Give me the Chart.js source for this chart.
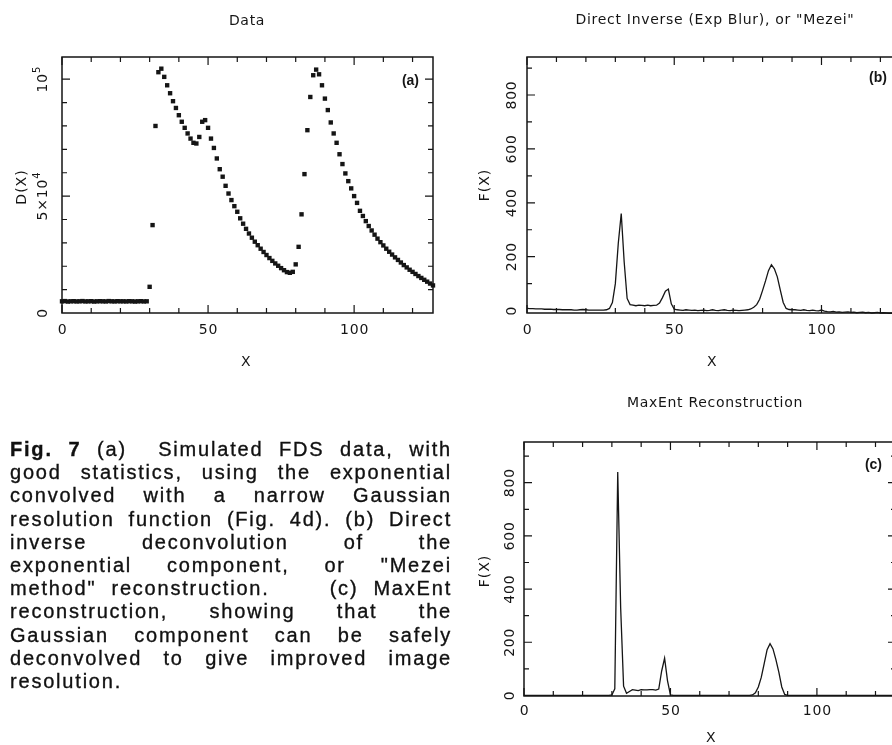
<!DOCTYPE html>
<html><head><meta charset="utf-8">
<script src="https://cdn.jsdelivr.net/npm/chart.js@4.4.1/dist/chart.umd.min.js"></script>
<style>
html,body{margin:0;padding:0;background:#fff;overflow:hidden;width:892px;height:745px;}
#wrap{position:relative;width:892px;height:745px;overflow:hidden;background:#fff;}
canvas{position:absolute;}
#cap{position:absolute;left:10px;top:438px;width:442px;font-family:"Liberation Sans",Arial,sans-serif;font-size:20px;line-height:23.2px;color:#111;letter-spacing:1.8px;-webkit-text-stroke:0.35px #111;}
#cap div{text-align:justify;text-align-last:justify;white-space:nowrap;}
#cap div.last{text-align:left;text-align-last:left;}
</style></head>
<body><div id="wrap">
<canvas id="ca" width="450" height="380" style="left:0;top:0"></canvas>
<canvas id="cb" width="460" height="380" style="left:450px;top:0"></canvas>
<canvas id="cc" width="460" height="375" style="left:450px;top:370px"></canvas>
<div id="cap">
<div><b>Fig. 7</b> (a)&nbsp; Simulated FDS data, with</div>
<div>good statistics, using the exponential</div>
<div>convolved with a narrow Gaussian</div>
<div>resolution function (Fig. 4d). (b) Direct</div>
<div>inverse deconvolution of the</div>
<div>exponential component, or "Mezei</div>
<div>method" reconstruction.&nbsp;&nbsp;&nbsp; (c) MaxEnt</div>
<div>reconstruction, showing that the</div>
<div>Gaussian component can be safely</div>
<div>deconvolved to give improved image</div>
<div class="last">resolution.</div>
</div>
</div>
<script>
// ---- data ----
const channels = [];
for (let i = 0; i < 128; i++) channels.push(i);

const dataCounts = [
 5000,5100,4900,5000,5050,4950,5000,5100,4950,5000,
 5050,4900,5000,5050,5000,4950,5100,5000,4950,5050,
 5000,5000,4950,5050,5000,4900,5000,5050,4950,5000,
 11200,37600,80000,103000,104500,101000,97400,94000,90600,87700,
 84600,81800,79200,76800,74600,72800,72500,75300,81800,82500,
 79200,74600,70600,66100,61500,58300,54400,51100,48300,45700,
 43300,40500,38200,36000,34000,32200,30500,29000,27500,26100,
 24800,23500,22300,21200,20200,19200,18300,17500,17200,17600,
 20800,28300,42200,59400,78200,92400,101700,104100,102100,97400,
 91700,86800,81500,76800,72800,67900,63700,59700,56400,53300,
 50000,47100,43700,41500,39300,37200,35300,33500,31800,30300,
 28900,27500,26200,25000,23800,22700,21600,20500,19500,18500,
 17600,16700,15800,15000,14200,13400,12600,11800
];

const mezei = [
 8,7,7,6,6,6,5,5,5,4,
 4,4,3,3,3,3,2,2,3,4,
 3,2,2,2,2,2,2,3,8,30,
 100,250,360,180,45,22,20,18,20,19,
 18,20,18,19,20,28,48,72,80,25,
 5,3,2,1,3,2,1,2,0,1,
 2,0,1,3,1,0,2,3,1,0,
 2,1,0,1,2,3,6,12,22,42,
 75,110,148,170,155,125,77,30,8,4,
 3,3,2,1,3,1,0,2,0,-1,
 2,-2,-4,-5,-3,-6,-5,-7,-6,-5,
 -7,-6,-8,-7,-6,-8,-7,-9,-8,-7,
 -9,-8,-9,-10,-9,-10,-10,-11
];

const maxent = [
 0,0,0,0,0,0,0,0,0,0,
 0,0,0,0,0,0,0,0,0,0,
 0,0,0,0,0,0,0,0,0,0,
 2,25,840,330,35,8,15,22,20,18,
 22,21,21,22,22,20,24,92,140,55,
 2,0,0,0,0,0,0,0,0,0,
 0,0,0,0,0,0,0,0,0,0,
 0,0,0,0,0,0,0,0,2,10,
 32,68,120,172,195,175,135,88,32,4,
 0,0,0,0,0,0,0,0,0,0,
 0,0,0,0,0,0,0,0,0,0,
 0,0,0,0,0,0,0,0,0,0,
 0,0,0,0,0,0,0,0
];

const xTickLabels = [0, 50, 100];
const yTickA = [{v:0, t:'0'}, {v:50000, t:'5×10', e:'4'}, {v:100000, t:'10', e:'5'}];
const yTickF = [0, 200, 400, 600, 800];

function pts(ys) { return channels.map((c, i) => ({x: c, y: ys[i]})); }

const FONT = '"DejaVu Sans", Verdana, sans-serif';
const INK = '#151515';

const annot = {
  id: 'annot',
  afterDraw(chart, args, o) {
    const {ctx, chartArea: a, scales: {x, y}} = chart;
    ctx.save();
    ctx.translate(-o.ox, -o.oy);
    const A = {left: a.left + o.ox, right: a.right + o.ox, top: a.top + o.oy, bottom: a.bottom + o.oy};
    const px = v => x.getPixelForValue(v) + o.ox;
    const py = v => y.getPixelForValue(v) + o.oy;
    ctx.strokeStyle = INK; ctx.fillStyle = INK;
    ctx.lineWidth = 1.5;
    ctx.strokeRect(A.left, A.top, A.right - A.left, A.bottom - A.top);
    ctx.lineWidth = 1.2;
    ctx.beginPath();
    for (let v = 0; v <= 127; v += 10) {
      const p = px(v), L = (v % 50 === 0) ? 8 : 5;
      ctx.moveTo(p, A.bottom); ctx.lineTo(p, A.bottom - L);
      ctx.moveTo(p, A.top); ctx.lineTo(p, A.top + L);
    }
    for (let v = o.yStep; v <= o.yMaxTick + 1e-9; v += o.yStep) {
      const p = py(v), L = (Math.round(v / o.yStep) % o.yMajEvery === 0) ? 8 : 5;
      ctx.moveTo(A.left, p); ctx.lineTo(A.left + L, p);
      ctx.moveTo(A.right, p); ctx.lineTo(A.right - L, p);
    }
    ctx.stroke();
    // x tick labels
    ctx.font = '14px ' + FONT;
    ctx.letterSpacing = '0.8px';
    ctx.textAlign = 'center'; ctx.textBaseline = 'middle';
    xTickLabels.forEach(v => ctx.fillText(String(v), px(v) + 0.5, o.xLabY));
    // y tick labels (rotated)
    o.yTicks.forEach(tk => {
      ctx.save();
      ctx.translate(o.yLabX, py(tk.v));
      ctx.rotate(-Math.PI / 2);
      ctx.font = '14px ' + FONT;
      const w1 = ctx.measureText(tk.t).width;
      let w2 = 0;
      if (tk.e) { ctx.font = '10px ' + FONT; w2 = ctx.measureText(tk.e).width; }
      const start = -(w1 + w2) / 2;
      ctx.font = '14px ' + FONT; ctx.textAlign = 'left';
      ctx.fillText(tk.t, start, 0);
      if (tk.e) { ctx.font = '10px ' + FONT; ctx.fillText(tk.e, start + w1, -6); }
      ctx.restore();
    });
    // axis titles
    ctx.font = '14px ' + FONT; ctx.textAlign = 'center';
    ctx.letterSpacing = '0.5px';
    ctx.fillText('X', o.xTitle[0], o.xTitle[1]);
    ctx.save();
    ctx.translate(o.yTitle[0], o.yTitle[1]); ctx.rotate(-Math.PI / 2);
    ctx.letterSpacing = '1px';
    ctx.fillText(o.yTitleText, 0, 0);
    ctx.restore();
    // panel title
    ctx.letterSpacing = '0.7px';
    ctx.font = '14px ' + FONT;
    ctx.fillText(o.title, o.titlePos[0], o.titlePos[1]);
    // panel tag
    ctx.letterSpacing = '0px';
    ctx.font = 'bold 14px "Liberation Sans", Arial, sans-serif';
    ctx.textAlign = 'right';
    ctx.fillText(o.tag, o.tagPos[0], o.tagPos[1]);
    ctx.restore();
  }
};

function baseOpts(pad, xr, yr, ann) {
  return {
    responsive: false, animation: false, devicePixelRatio: 1,
    layout: {padding: pad},
    scales: {
      x: {type: 'linear', min: xr[0], max: xr[1], display: false},
      y: {type: 'linear', min: yr[0], max: yr[1], display: false}
    },
    plugins: {legend: {display: false}, tooltip: {enabled: false}, annot: ann}
  };
}

new Chart(document.getElementById('ca'), {
  type: 'scatter',
  data: {datasets: [{data: pts(dataCounts), pointStyle: 'rect', pointRadius: 3.1,
    backgroundColor: INK, borderWidth: 0, showLine: false, clip: 4}]},
  options: baseOpts({left: 62, right: 17, top: 57, bottom: 67}, [0, 127], [0, 109500], {
    ox: 0, oy: 0, yStep: 10000, yMajEvery: 5, yMaxTick: 100000, xLabY: 330,
    yTicks: yTickA, yLabX: 43, xTitle: [246, 362], yTitle: [22, 187], yTitleText: 'D(X)',
    title: 'Data', titlePos: [247, 21], tag: '(a)', tagPos: [419, 81]
  }),
  plugins: [annot]
});

new Chart(document.getElementById('cb'), {
  type: 'line',
  data: {datasets: [{data: pts(mezei), borderColor: INK, borderWidth: 1.3, pointRadius: 0,
    fill: false, tension: 0, clip: 3}]},
  options: baseOpts({left: 77, right: 9, top: 57, bottom: 67}, [0, 127], [-9, 941], {
    ox: 450, oy: 0, yStep: 100, yMajEvery: 2, yMaxTick: 900, xLabY: 330,
    yTicks: yTickF.map(v => ({v, t: String(v)})), yLabX: 512, xTitle: [712, 362], yTitle: [485, 185],
    yTitleText: 'F(X)', title: 'Direct Inverse (Exp Blur), or "Mezei"', titlePos: [715, 20],
    tag: '(b)', tagPos: [887, 78]
  }),
  plugins: [annot]
});

new Chart(document.getElementById('cc'), {
  type: 'line',
  data: {datasets: [{data: pts(maxent), borderColor: INK, borderWidth: 1.3, pointRadius: 0,
    fill: false, tension: 0, clip: 3}]},
  options: baseOpts({left: 74, right: 14, top: 72, bottom: 49}, [0, 127], [-2, 953], {
    ox: 450, oy: 370, yStep: 100, yMajEvery: 2, yMaxTick: 900, xLabY: 711,
    yTicks: yTickF.map(v => ({v, t: String(v)})), yLabX: 510, xTitle: [711, 738], yTitle: [485, 571],
    yTitleText: 'F(X)', title: 'MaxEnt Reconstruction', titlePos: [715, 403],
    tag: '(c)', tagPos: [882, 465]
  }),
  plugins: [annot]
});
</script>
</body></html>
